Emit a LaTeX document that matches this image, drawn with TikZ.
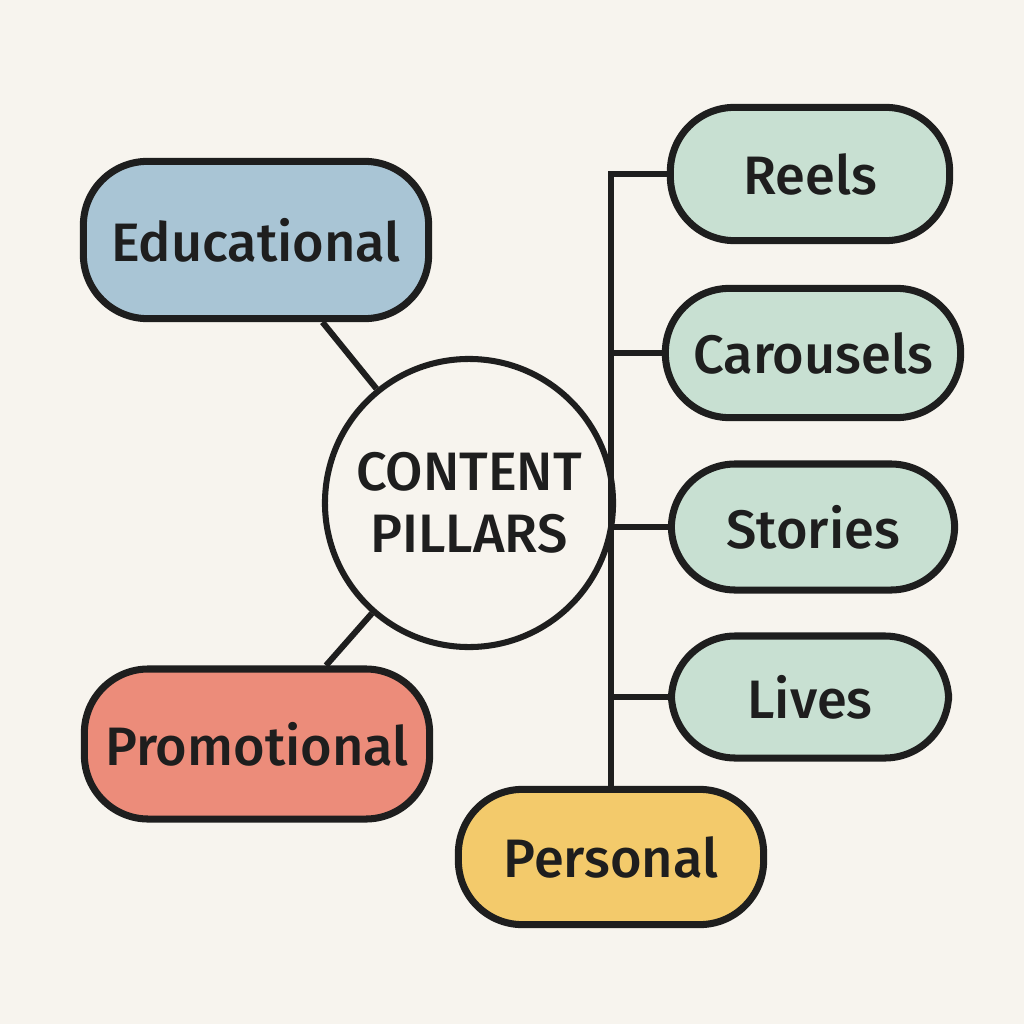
\documentclass[tikz,border=0pt]{standalone}
\usepackage{fontspec}
\setmainfont{Fira Sans Medium}[Ligatures=NoCommon]
\definecolor{paper}{RGB}{247,244,238}
\definecolor{ink}{RGB}{30,30,30}
\definecolor{edublue}{RGB}{169,197,213}
\definecolor{promored}{RGB}{236,140,122}
\definecolor{formatgreen}{RGB}{200,224,210}
\definecolor{personalyellow}{RGB}{243,202,107}
\tikzset{
  pillar/.style={draw=ink, line width=5pt, rounded corners=1.6cm, inner sep=0pt,
    text=ink, font=\fontsize{38.5}{44}\selectfont},
  hub/.style={circle, draw=ink, line width=4.3pt, fill=paper, inner sep=0pt,
    minimum size=7.2cm, align=center, text=ink, font=\fontsize{38.5}{44}\selectfont},
  link/.style={draw=ink, line width=4.3pt}
}
\begin{document}
\begin{tikzpicture}[x=0.025cm, y=-0.025cm]
      \fill[paper] (0,0) rectangle (1024,1024);
      \draw
        (469,503) node[hub] (pillars) {CONTENT\\PILLARS}
        (256,240) node[pillar, fill=edublue, minimum width=8.63cm, minimum height=3.93cm] (edu) {Educational}
        (257,744) node[pillar, fill=promored, minimum width=8.63cm, minimum height=3.75cm] (promo) {Promotional}
        (810,174) node[pillar, fill=formatgreen, minimum width=6.98cm, minimum height=3.33cm] (reels) {Reels}
        (813,353) node[pillar, fill=formatgreen, minimum width=7.38cm, minimum height=3.23cm] (carousels) {Carousels}
        (813,527) node[pillar, fill=formatgreen, minimum width=7.08cm, minimum height=3.15cm] (stories) {Stories}
        (810,697) node[pillar, fill=formatgreen, minimum width=6.93cm, minimum height=3.05cm] (lives) {Lives}
        (611,857) node[pillar, fill=personalyellow, minimum width=7.63cm, minimum height=3.38cm] (personal) {Personal};
      \begin{scope}[link]
        \draw (edu) -- (pillars);
        \draw (promo) -- (pillars);
        \draw (reels.west) -| (personal.north);
        \draw (carousels.west) -- (carousels.west -| personal.north);
        \draw (stories.west) -- (stories.west -| personal.north);
        \draw (lives.west) -- (lives.west -| personal.north);
      \end{scope}
    \end{tikzpicture}
\end{document}
